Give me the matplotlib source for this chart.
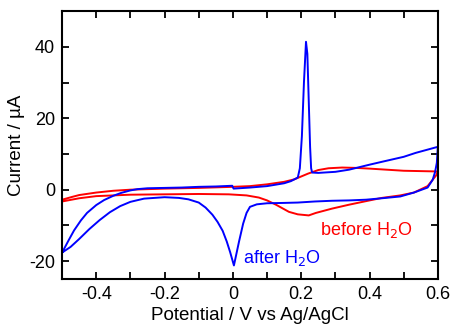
import matplotlib.pyplot as plt
from matplotlib.ticker import MultipleLocator

plt.rcParams['font.family'] = ['Liberation Sans', 'DejaVu Sans']

# after H2O, anodic sweep (-0.5 -> 0.6 V)
blue_fwd_x = [-0.5, -0.48, -0.465, -0.445, -0.427, -0.4, -0.377, -0.35, -0.327, -0.3,
              -0.28, -0.25, -0.2, -0.15, -0.1, -0.05, -0.002, 0.002, 0.05, 0.1,
              0.15, 0.17, 0.19, 0.196, 0.202, 0.208, 0.214, 0.218, 0.222, 0.226,
              0.229, 0.232, 0.25, 0.3, 0.34, 0.4, 0.436, 0.5, 0.535, 0.6]
blue_fwd_y = [-17.6, -14.0, -11.4, -8.6, -6.5, -4.3, -2.9, -1.7, -0.9, -0.2,
              0.15, 0.4, 0.5, 0.6, 0.8, 0.9, 1.1, 0.3, 0.6, 1.0,
              1.8, 2.4, 3.4, 6.0, 15.0, 30.0, 41.4, 38.0, 25.0, 12.0,
              6.0, 4.8, 4.7, 5.0, 5.6, 7.0, 7.8, 9.2, 10.3, 12.0]
# after H2O, cathodic sweep (0.6 -> -0.5 V)
blue_rev_x = [0.6, 0.597, 0.592, 0.585, 0.57, 0.53, 0.49, 0.436, 0.39, 0.34,
              0.29, 0.24, 0.19, 0.15, 0.1, 0.07, 0.05, 0.04, 0.03, 0.018,
              0.003, -0.008, -0.018, -0.03, -0.045, -0.06, -0.08, -0.1, -0.13, -0.158,
              -0.2, -0.26, -0.3, -0.33, -0.36, -0.39, -0.42, -0.45, -0.475, -0.5]
blue_rev_y = [12.0, 7.5, 5.0, 2.8, 0.6, -0.8, -1.9, -2.4, -2.8, -3.0,
              -3.1, -3.3, -3.6, -3.7, -3.8, -4.1, -4.8, -6.5, -9.5, -14.5,
              -21.2, -17.5, -14.5, -11.5, -9.0, -7.0, -5.0, -3.6, -2.7, -2.3,
              -2.1, -2.5, -3.4, -4.6, -6.3, -8.5, -11.0, -13.8, -16.0, -17.6]

# before H2O
red_fwd_x = [-0.5, -0.47, -0.45, -0.4, -0.35, -0.3, -0.2, -0.1, 0.0, 0.05, 0.1,
             0.15, 0.18, 0.2, 0.22, 0.25, 0.28, 0.32, 0.36, 0.4, 0.45, 0.5, 0.55, 0.6]
red_fwd_y = [-2.8, -2.0, -1.5, -0.8, -0.3, 0.0, 0.3, 0.5, 0.8, 1.0, 1.5,
             2.2, 2.9, 3.7, 4.5, 5.5, 6.0, 6.2, 6.1, 5.9, 5.6, 5.3, 5.2, 5.1]
red_rev_x = [0.6, 0.595, 0.585, 0.57, 0.53, 0.49, 0.436, 0.39, 0.34, 0.29, 0.243,
             0.222, 0.19, 0.164, 0.126, 0.1, 0.076, 0.04, -0.012, -0.1, -0.2, -0.3,
             -0.4, -0.45, -0.5]
red_rev_y = [5.1, 4.0, 2.8, 1.0, -0.8, -1.6, -2.3, -3.2, -4.2, -5.3, -6.5,
             -7.2, -6.9, -6.2, -4.2, -3.0, -2.2, -1.6, -1.3, -1.2, -1.3, -1.4,
             -1.8, -2.4, -3.3]

fig = plt.figure(figsize=(4.5, 3.25), dpi=100)
ax = fig.add_axes([0.138, 0.1415, 0.835, 0.8245])

ax.plot(red_fwd_x + red_rev_x, red_fwd_y + red_rev_y, color='#ff0000', lw=1.4)
ax.plot(blue_fwd_x + blue_rev_x, blue_fwd_y + blue_rev_y, color='#0000ff', lw=1.4)

ax.text(0.256, -11.3, 'before H$_2$O', color='#ff0000', fontsize=13, va='center')
ax.text(0.03, -19.2, 'after H$_2$O', color='#0000ff', fontsize=13, va='center')

ax.set_xlim(-0.5, 0.6)
ax.set_ylim(-25, 50)
ax.xaxis.set_minor_locator(MultipleLocator(0.1))
ax.yaxis.set_minor_locator(MultipleLocator(10))
ax.set_xticks([-0.4, -0.2, 0, 0.2, 0.4, 0.6])
ax.set_xticklabels(['-0.4', '-0.2', '0', '0.2', '0.4', '0.6'])
ax.set_yticks([-20, 0, 20, 40])
ax.set_yticklabels(['-20', '0', '20', '40'])
ax.tick_params(which='both', direction='in', top=True, right=True, width=1.3,
               length=5, labelsize=13, pad=5)
for s in ax.spines.values():
    s.set_linewidth(1.5)

ax.set_xlabel('Potential / V vs Ag/AgCl', fontsize=13.5, labelpad=3)
ax.set_ylabel('Current / µA', fontsize=13.5, labelpad=3)

fig.savefig('out.png', dpi=100)
